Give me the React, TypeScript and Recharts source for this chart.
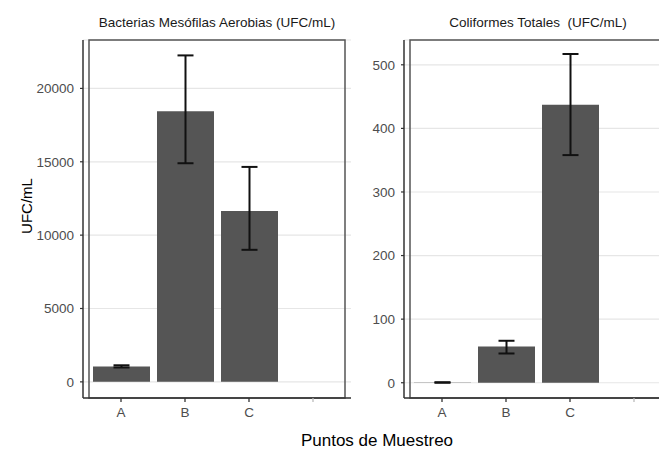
import React from 'react';
import { BarChart, Bar, XAxis, YAxis, CartesianGrid, ErrorBar, ReferenceArea } from 'recharts';

const categories = ['A', 'B', 'C', ''];

const mesofilasMean = [1050, 18450, 11650, null];
const mesofilasLow = [980, 14900, 9000, null];
const mesofilasHigh = [1130, 22250, 14650, null];

const coliformesMean = [0.4, 57, 437, null];
const coliformesLow = [0, 46, 358, null];
const coliformesHigh = [0.8, 66, 517, null];

const mesofilasTicks = [0, 5000, 10000, 15000, 20000];
const coliformesTicks = [0, 100, 200, 300, 400, 500];

const mesofilasDomain = [-1100, 23300];
const coliformesDomain = [-24, 539];

const titleLeft = 'Bacterias Mesófilas Aerobias (UFC/mL)';
const titleRight = 'Coliformes Totales  (UFC/mL)';
const yTitle = 'UFC/mL';
const xTitle = 'Puntos de Muestreo';

const FONT = '"Liberation Sans", Arial, Helvetica, sans-serif';

function buildRows(mean: (number | null)[], low: (number | null)[], high: (number | null)[]) {
  return categories.map((cat, i) => {
    const m = mean[i];
    if (m == null) return { cat, value: null as number | null, err: undefined as number[] | undefined };
    return { cat, value: m, err: [m - (low[i] as number), (high[i] as number) - m] };
  });
}

const leftRows = buildRows(mesofilasMean, mesofilasLow, mesofilasHigh);
const rightRows = buildRows(coliformesMean, coliformesLow, coliformesHigh);

function XTick(props: any) {
  const { x, y, payload } = props;
  const empty = !payload || payload.value === '';
  return (
    <g>
      <line x1={x} x2={x} y1={y - 9} y2={y - 5} stroke={empty ? '#bbb' : '#333'} strokeWidth={1.3} />
      {!empty && (
        <text x={x} y={y + 10} textAnchor="middle" fontSize={13.5} fill="#4d4d4d" fontFamily={FONT}>
          {payload.value}
        </text>
      )}
    </g>
  );
}

function Panel({ rows, ticks, domain }: { rows: any[]; ticks: number[]; domain: number[] }) {
  return (
    <BarChart width={360} height={450} data={rows} margin={{ top: 40, right: 9, bottom: 22, left: 0 }}>
      <CartesianGrid vertical={false} stroke="#e6e6e6" strokeWidth={1.2} />
      <XAxis
        dataKey="cat"
        height={30}
        padding={{ left: 6, right: 6 }}
        axisLine={{ stroke: '#333', strokeWidth: 1.5 }}
        tickLine={false}
        tickSize={4}
        tickMargin={5}
        tick={<XTick />}
        interval={0}
      />
      <YAxis
        type="number"
        width={83}
        domain={domain}
        ticks={ticks}
        allowDataOverflow
        axisLine={{ stroke: '#333', strokeWidth: 1.5 }}
        tickLine={{ stroke: '#333', strokeWidth: 1.2 }}
        tickSize={3}
        tickMargin={6}
        tick={{ fill: '#4d4d4d', fontSize: 13.5, fontFamily: FONT }}
      />
      <Bar dataKey="value" fill="#555555" barSize={57} isAnimationActive={false}>
        <ErrorBar dataKey="err" width={8} stroke="#111" strokeWidth={2} direction="y" />
      </Bar>
      <ReferenceArea y1={domain[0]} y2={domain[1]} fill="none" stroke="#555" strokeWidth={1.5} ifOverflow="visible" />
    </BarChart>
  );
}

export default function App() {
  return (
    <div style={{ position: 'relative', width: 659, height: 450, overflow: 'hidden', background: '#fff', fontFamily: FONT }}>
      <style>{'body{margin:0;background:#fff}'}</style>
      <div style={{ position: 'absolute', left: 0, top: 0 }}>
        <Panel rows={leftRows} ticks={mesofilasTicks} domain={mesofilasDomain} />
      </div>
      <div style={{ position: 'absolute', left: 321, top: 0 }}>
        <Panel rows={rightRows} ticks={coliformesTicks} domain={coliformesDomain} />
      </div>
      <svg width={659} height={450} style={{ position: 'absolute', left: 0, top: 0, pointerEvents: 'none' }}>
        <text x={217} y={27} textAnchor="middle" fontSize={13.5} fill="#1a1a1a" fontFamily={FONT} style={{ whiteSpace: 'pre' }}>{titleLeft}</text>
        <text x={538} y={27} textAnchor="middle" fontSize={13.5} fill="#1a1a1a" fontFamily={FONT} style={{ whiteSpace: 'pre' }}>{titleRight}</text>
        <text transform="translate(32,206) rotate(-90)" textAnchor="middle" fontSize={15} fill="#000" fontFamily={FONT}>{yTitle}</text>
        <text x={377} y={446} textAnchor="middle" fontSize={17} fill="#000" fontFamily={FONT}>{xTitle}</text>
      </svg>
    </div>
  );
}
